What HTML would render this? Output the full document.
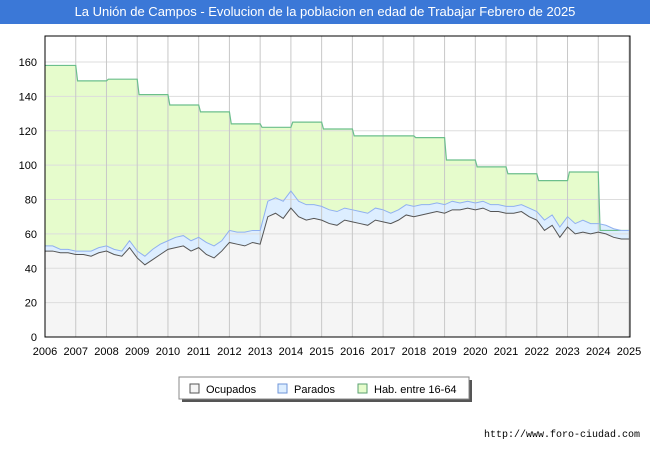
<!DOCTYPE html>
<html><head><meta charset="utf-8"><style>
body{margin:0;width:650px;height:450px;background:#fff;font-family:"Liberation Sans",sans-serif;overflow:hidden}
#title{position:absolute;left:0;top:0;width:650px;height:24px;background:#3b78d7;color:#fff;font-size:13px;line-height:24px;text-align:center}
</style></head><body>
<div id="title">La Unión de Campos - Evolucion de la poblacion en edad de Trabajar Febrero de 2025</div>
<svg id="c" width="650" height="450" style="position:absolute;left:0;top:0"></svg>
<script>
const years=[2006,2007,2008,2009,2010,2011,2012,2013,2014,2015,2016,2017,2018,2019,2020,2021,2022,2023,2024,2025];
const hab=[158,149,150,141,135,131,124,122,125,121,117,117,116,103,99,95,91,96,62,62];
const ocupados=[50,50,49,49,48,48,47,49,50,48,47,52,46,42,45,48,51,52,53,50,52,48,46,50,55,54,53,55,54,70,72,69,75,70,68,69,68,66,65,68,67,66,65,68,67,66,68,71,70,71,72,73,72,74,74,75,74,75,73,73,72,72,73,70,68,62,65,58,64,60,61,60,61,60,58,57,57];
const parados=[3,3,2,2,2,2,3,3,3,3,3,4,4,5,6,6,5,6,6,6,6,7,7,6,7,7,8,7,8,9,9,10,10,9,9,8,8,8,8,7,7,7,7,7,7,6,6,6,6,6,5,5,5,5,4,4,4,4,4,4,4,4,4,5,5,6,6,6,6,6,7,6,5,5,5,5,5];
const yTicks=[0,20,40,60,80,100,120,140,160];
const NS='http://www.w3.org/2000/svg';
const svg=document.getElementById('c');
const X0=45,X1=629,Y0=337,PPU=275/160;
const xs=t=>X0+(t-2006)*(X1-X0)/19;
const ys=v=>Y0-v*PPU;
function mk(tag,attrs,parent){const e=document.createElementNS(NS,tag);for(const k in attrs)e.setAttribute(k,attrs[k]);(parent||svg).appendChild(e);return e;}
mk('rect',{x:45,y:36,width:585,height:301,fill:'#fff'});
let hp=[];
for(let i=0;i<years.length-1;i++){hp.push([xs(years[i]+(i?0.06:0)),ys(hab[i])]);hp.push([xs(years[i+1]),ys(hab[i])]);}
hp.push([xs(2025),ys(hab[19])]);
const hd='M'+hp.map(p=>p.join(',')).join(' L');
let a=mk('path',{d:hd+` L${X1},${Y0} L${X0},${Y0} Z`,fill:'#e6fccc',stroke:'none'});


const tq=i=>2006+i/4;
const topPts=ocupados.map((v,i)=>[xs(tq(i)),ys(v+parados[i])]);
const botPts=ocupados.map((v,i)=>[xs(tq(i)),ys(v)]);
const td='M'+topPts.map(p=>p.join(',')).join(' L');
const bd='M'+botPts.map(p=>p.join(',')).join(' L');
a=mk('path',{d:td+' L'+botPts.slice().reverse().map(p=>p.join(',')).join(' L')+' Z',fill:'#ddeeff'});


a=mk('path',{d:bd+` L${X1},${Y0} L${X0},${Y0} Z`,fill:'#f5f5f5'});


yTicks.forEach(v=>{mk('line',{x1:X0,x2:630,y1:ys(v),y2:ys(v),stroke:'#dddddd'});
 const t=mk('text',{x:37,y:ys(v)+4,'text-anchor':'end','font-size':11,fill:'#000'});t.textContent=v;
 
 });
years.forEach(y=>{mk('line',{x1:xs(y),x2:xs(y),y1:36,y2:Y0,stroke:'#c8c8c8'});
 const t=mk('text',{x:xs(y),y:355,'text-anchor':'middle','font-size':11,fill:'#000'});t.textContent=y;
 
 });
a=mk('path',{d:hd,fill:'none',stroke:'#6cbf8c','stroke-width':1.2});


a=mk('path',{d:td,fill:'none',stroke:'#90b0f0','stroke-width':1});


a=mk('path',{d:bd,fill:'none',stroke:'#555','stroke-width':1});


mk('rect',{x:45,y:36,width:585,height:301,fill:'none',stroke:'#000'});
const lg=mk('g',{});


mk('rect',{x:182,y:380,width:290,height:22,fill:'#555'},lg);
mk('rect',{x:179,y:377,width:290,height:22,fill:'#fff',stroke:'#888'},lg);
[['Ocupados','#f5f5f5','#555',190],['Parados','#ddeeff','#6f95d8',278],['Hab. entre 16-64','#e6fccc','#5aa070',358]].forEach(l=>{
 const r=mk('rect',{x:l[3],y:384,width:9,height:9,fill:l[1],stroke:l[2]},lg);
 
 
 const t=mk('text',{x:l[3]+16,y:393,'font-size':11},lg);t.textContent=l[0];
 
 });
const u=mk('text',{x:640,y:437,'text-anchor':'end','font-size':10,'font-family':'Liberation Mono, monospace'});u.textContent='http://www.foro-ciudad.com';


</script>
</body></html>
